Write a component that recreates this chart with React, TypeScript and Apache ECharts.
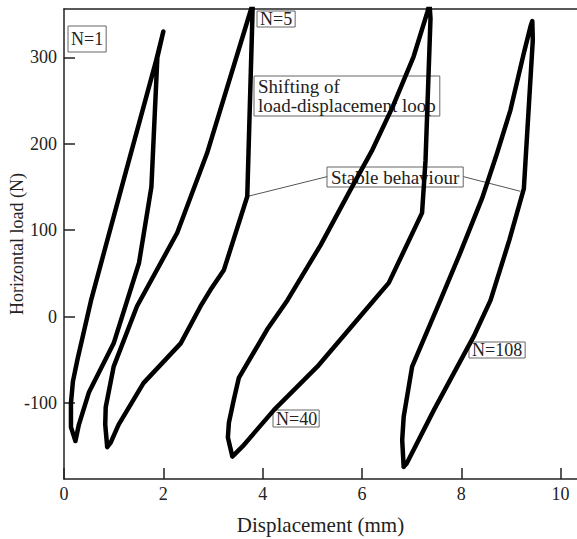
import React, { useEffect, useRef } from "react";
import * as echarts from "echarts";

// Load–displacement loops, [displacement (mm), load (N)]
const cycle1: number[][] = [
  [0.23, -144], [0.14, -128], [0.14, -100], [0.18, -75], [0.27, -50], [0.55, 20],
  [1.2, 158], [1.84, 293], [2.0, 330], [1.88, 300], [1.76, 150], [1.51, 62],
  [1.0, -31], [0.5, -88], [0.3, -125], [0.23, -144],
];
const cycle5: number[][] = [
  [0.87, -151], [0.83, -125], [0.84, -105], [1.0, -58], [1.47, 12], [2.28, 97],
  [2.88, 189], [3.72, 347], [3.8, 362], [3.79, 340], [3.69, 139], [3.22, 54],
  [2.95, 31], [2.75, 12], [2.35, -31], [1.6, -77], [1.1, -125], [0.94, -146], [0.87, -151],
];
const cycle40: number[][] = [
  [3.39, -162], [3.3, -140], [3.32, -123], [3.42, -96], [3.52, -71], [4.09, -15],
  [4.5, 19], [5.17, 83], [5.77, 147], [6.21, 193], [6.62, 243], [7.04, 301],
  [7.32, 353], [7.36, 362], [7.38, 345], [7.28, 181], [7.21, 120], [6.54, 39],
  [6.24, 19], [5.1, -58], [4.23, -108], [3.6, -150], [3.39, -162],
];
const cycle108: number[][] = [
  [6.84, -174], [6.81, -143], [6.84, -116], [7.01, -58], [7.58, 19], [7.96, 71],
  [8.42, 137], [8.72, 189], [8.99, 239], [9.26, 305], [9.4, 337], [9.43, 342],
  [9.44, 320], [9.26, 148], [8.97, 89], [8.59, 19], [8.25, -23], [7.45, -108],
  [6.9, -170], [6.84, -174],
];
// leader lines of the "Stable behaviour" note
const leaderLeft: number[][] = [[5.3, 162], [3.69, 139]];
const leaderRight: number[][] = [[8.04, 162], [9.19, 145]];

const xTicks = [0, 2, 4, 6, 8, 10];
const yTicks = [-100, 0, 100, 200, 300];
const xMin = 0;
const xMax = 10.33;
const yMin = -188;
const yMax = 356;

const FONT = '"Liberation Serif", "Times New Roman", serif';
const AX = "#222";

export default function App() {
  const ref = useRef<HTMLDivElement>(null);
  useEffect(() => {
    if (!ref.current) return;
    const chart = echarts.init(ref.current, null, { renderer: "svg" });
    const loopStyle = { color: "#000", width: 4.5, join: "round", cap: "round" };
    const mkLoop = (name: string, data: number[][]) => ({
      name, type: "line", data, showSymbol: false, symbol: "none",
      lineStyle: loopStyle, z: 3, clip: true,
    });
    const mkLeader = (name: string, data: number[][]) => ({
      name, type: "line", data, showSymbol: false, symbol: "none",
      lineStyle: { color: "#555", width: 1 }, z: 2,
    });
    const boxText = (text: string, x: number, y: number, size: number, lh: number, pad: number[]) => ({
      type: "text", x, y, z: 1,
      style: {
        text, font: `${size}px ${FONT}`, fill: "#222", lineHeight: lh,
        borderColor: "#666", borderWidth: 1, padding: pad,
        align: "left", verticalAlign: "top",
      },
    });
    chart.setOption({
      animation: false,
      grid: { left: 64, right: 0, top: 9, bottom: 60, containLabel: false, outerBoundsMode: "none" },
      xAxis: [
        {
          type: "value", min: xMin, max: xMax, position: "bottom",
          axisLine: { show: true, onZero: false, lineStyle: { color: AX, width: 1.5 } },
          axisTick: { show: true, inside: true, length: 11, customValues: xTicks, lineStyle: { color: AX, width: 1.5 } },
          axisLabel: { customValues: xTicks, fontFamily: FONT, fontSize: 18, color: AX, margin: 6 },
          splitLine: { show: false },
          name: "Displacement (mm)", nameLocation: "middle", nameGap: 35, nameMoveOverlap: false,
          nameTextStyle: { fontFamily: FONT, fontSize: 21, color: AX },
        },
        {
          type: "value", min: xMin, max: xMax, position: "top",
          axisLine: { show: true, onZero: false, lineStyle: { color: AX, width: 1.5 } },
          axisTick: { show: false }, axisLabel: { show: false }, splitLine: { show: false },
        },
      ],
      yAxis: {
        type: "value", min: yMin, max: yMax,
        axisLine: { show: true, onZero: false, lineStyle: { color: AX, width: 1.5 } },
        axisTick: { show: true, inside: true, length: 11, customValues: yTicks, lineStyle: { color: AX, width: 1.5 } },
        axisLabel: { customValues: yTicks, fontFamily: FONT, fontSize: 18, color: AX, margin: 7 },
        splitLine: { show: false },
        name: "Horizontal load (N)", nameLocation: "middle", nameGap: 38, nameMoveOverlap: false,
        nameTextStyle: { fontFamily: FONT, fontSize: 18, color: AX },
      },
      series: [
        mkLoop("N=1", cycle1),
        mkLoop("N=5", cycle5),
        mkLoop("N=40", cycle40),
        mkLoop("N=108", cycle108),
        mkLeader("leaderL", leaderLeft),
        mkLeader("leaderR", leaderRight),
      ],
      graphic: [
        boxText("N=1", 68, 26, 18, 18, [4, 3, 4, 3]),
        boxText("N=5", 257, 11, 18, 16, [0, 3, 0, 3]),
        boxText("N=40", 273, 410, 18, 17, [0, 2, 0, 3]),
        boxText("N=108", 469, 342, 18, 16, [0, 3, 0, 3]),
        boxText("Shifting of\nload-displacement loop", 254, 76, 19, 19, [1, 4, 1, 4]),
        boxText("Stable behaviour", 327, 167, 19, 18, [1, 4, 1, 4]),
      ],
    });
    return () => chart.dispose();
  }, []);
  return (
    <div
      ref={ref}
      style={{ position: "fixed", left: 0, top: 0, width: 577, height: 539, background: "#fff" }}
    />
  );
}
